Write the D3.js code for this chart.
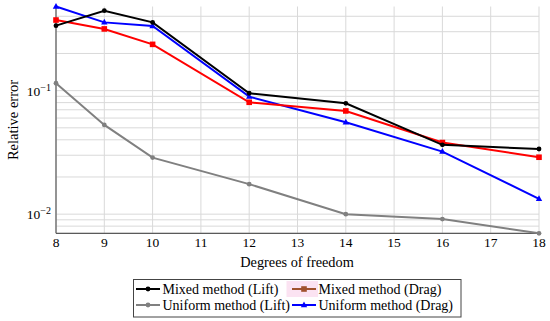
<!DOCTYPE html>
<html>
<head>
<meta charset="utf-8">
<script src="https://d3js.org/d3.v7.min.js"></script>
<style>
  body { margin: 0; background: #fff; }
</style>
</head>
<body>
<div class="holder"></div>
<script>
var dof = [8, 9, 10, 12, 14, 16, 18]
var xTicks = [8, 9, 10, 11, 12, 13, 14, 15, 16, 17, 18]

var mixedLift = [0.336, 0.444, 0.357, 0.0953, 0.079, 0.0364, 0.0337]
var mixedDrag = [0.373, 0.316, 0.237, 0.0805, 0.0685, 0.0380, 0.0289]
var uniformLift = [0.1148, 0.0528, 0.0287, 0.0175, 0.0100, 0.00912, 0.0070]
var uniformDrag = [0.48, 0.357, 0.334, 0.0894, 0.0555, 0.0321, 0.0133]

var series = [
  { name: 'Mixed method (Lift)', values: mixedLift, color: '#000', marker: 'circle' },
  { name: 'Mixed method (Drag)', values: mixedDrag, color: '#ff0000', marker: 'square' },
  { name: 'Uniform method (Lift)', values: uniformLift, color: '#808080', marker: 'circle' },
  { name: 'Uniform method (Drag)', values: uniformDrag, color: '#0000ff', marker: 'triangle' }
]

var padL = 56, padR = 539, padT = 6.5, padB = 233.3
var serif = "Liberation Serif, DejaVu Serif, serif"

var chart = d3.select('.holder')
  .append('svg')
  .attr('width', 550)
  .attr('height', 321)
  .style('font-family', serif)

var xScale = d3.scaleLinear()
  .domain([8, 18])
  .range([padL, padR])

var yScale = d3.scaleLog()
  .domain([0.007, 0.48])
  .range([padB, padT])

// grid
var minor = []
;[0.001, 0.01, 0.1].forEach(function(d) {
  for (var k = 1; k < 10; k++) {
    var v = d * k
    if (v >= 0.007 && v <= 0.48) minor.push(v)
  }
})

chart.append('g')
  .selectAll('line')
  .data(minor)
  .enter()
  .append('line')
  .attr('x1', padL)
  .attr('x2', padR)
  .attr('y1', function(d) { return yScale(d) })
  .attr('y2', function(d) { return yScale(d) })
  .attr('stroke', '#d9d9d9')
  .attr('stroke-width', 1)

chart.append('g')
  .selectAll('line')
  .data(xTicks)
  .enter()
  .append('line')
  .attr('x1', function(d) { return xScale(d) })
  .attr('x2', function(d) { return xScale(d) })
  .attr('y1', padT)
  .attr('y2', padB)
  .attr('stroke', '#d9d9d9')
  .attr('stroke-width', 1)

// axes lines
chart.append('line')
  .attr('x1', padL).attr('x2', padL)
  .attr('y1', padT).attr('y2', padB)
  .attr('stroke', '#5a5a5a').attr('stroke-width', 1.2)
chart.append('line')
  .attr('x1', padL).attr('x2', padR)
  .attr('y1', padB).attr('y2', padB)
  .attr('stroke', '#5a5a5a').attr('stroke-width', 1.2)

// x tick labels
chart.append('g')
  .selectAll('text')
  .data(xTicks)
  .enter()
  .append('text')
  .attr('x', function(d) { return xScale(d) })
  .attr('y', 247)
  .attr('text-anchor', 'middle')
  .style('font-size', '13.5px')
  .text(function(d) { return d })

// y tick labels
;[0.1, 0.01].forEach(function(d) {
  var t = chart.append('text')
    .attr('x', 51)
    .attr('y', yScale(d) + 5)
    .attr('text-anchor', 'end')
    .style('font-size', '13.5px')
  t.append('tspan').text('10')
  t.append('tspan')
    .attr('dy', -5)
    .style('font-size', '10px')
    .text('\u2212' + Math.round(-Math.log10(d)))
})

chart.append('text')
  .attr('x', 297)
  .attr('y', 267)
  .attr('text-anchor', 'middle')
  .style('font-size', '14.3px')
  .text('Degrees of freedom')

chart.append('text')
  .attr('transform', 'translate(18,120) rotate(-90)')
  .attr('text-anchor', 'middle')
  .style('font-size', '14.5px')
  .text('Relative error')

// markers
function drawMarker(g, type, x, y, color) {
  if (type === 'circle') {
    g.append('circle').attr('cx', x).attr('cy', y).attr('r', 2.4).attr('fill', color)
  } else if (type === 'square') {
    g.append('rect').attr('x', x - 2.8).attr('y', y - 2.8).attr('width', 5.6).attr('height', 5.6).attr('fill', color)
  } else {
    g.append('path')
      .attr('d', 'M' + x + ',' + (y - 3.6) + 'L' + (x + 3.2) + ',' + (y + 2.2) + 'L' + (x - 3.2) + ',' + (y + 2.2) + 'Z')
      .attr('fill', color)
  }
}

var line = d3.line()
  .x(function(d) { return xScale(d[0]) })
  .y(function(d) { return yScale(d[1]) })

var plot = chart.append('g')
var order = [2, 3, 1, 0]
order.forEach(function(i) {
  var s = series[i]
  var pts = dof.map(function(x, j) { return [x, s.values[j]] })
  var g = plot.append('g')
  g.append('path')
    .attr('d', line(pts))
    .attr('fill', 'none')
    .attr('stroke', s.color)
    .attr('stroke-width', 2)
  pts.forEach(function(p) {
    drawMarker(g, s.marker, xScale(p[0]), yScale(p[1]), s.color)
  })
})

// legend
var legend = chart.append('g').attr('id', 'legend')
legend.append('rect')
  .attr('x', 133.5).attr('y', 279.5)
  .attr('width', 327.5).attr('height', 37.5)
  .attr('fill', '#fff')
  .attr('stroke', '#444')
  .attr('stroke-width', 1)

legend.append('rect')
  .attr('x', 286.5).attr('y', 281)
  .attr('width', 31.5).attr('height', 16)
  .attr('fill', '#fbe3f2')

var legendItems = [
  { s: series[0], x: 136, y: 293.5, color: '#000' },
  { s: series[1], x: 292, y: 293.5, color: '#a0522d' },
  { s: series[2], x: 136, y: 309.5, color: '#808080' },
  { s: series[3], x: 292, y: 309.5, color: '#0000ff' }
]
legendItems.forEach(function(d) {
  var cy = d.y - 4.5
  legend.append('line')
    .attr('x1', d.x).attr('x2', d.x + 24)
    .attr('y1', cy).attr('y2', cy)
    .attr('stroke', d.color).attr('stroke-width', 2)
  drawMarker(legend, d.s.marker, d.x + 12, cy, d.color)
  legend.append('text')
    .attr('x', d.x + 26.5)
    .attr('y', d.y)
    .style('font-size', '14px')
    .text(d.s.name)
})
</script>
</body>
</html>
